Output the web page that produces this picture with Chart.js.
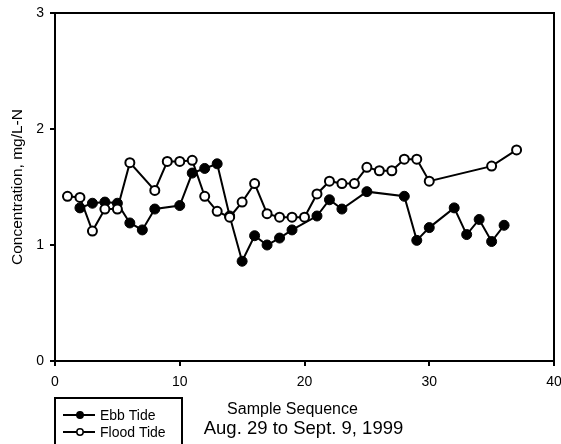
<!DOCTYPE html>
<html>
<head>
<meta charset="utf-8">
<script src="https://cdn.jsdelivr.net/npm/chart.js@4/dist/chart.umd.min.js"></script>
<style>
  html, body { margin: 0; padding: 0; background: #fff; }
  #wrap { width: 561px; height: 444px; position: relative; }
</style>
</head>
<body>
<div id="wrap"><canvas id="c" width="561" height="444"></canvas></div>
<script>
const FONT = "'Liberation Sans', Arial, sans-serif";

const ebbX = [2, 3, 4, 5, 6, 7, 8, 10, 11, 12, 13, 14, 15, 16, 17, 18, 19, 21, 22, 23, 25, 28, 29, 30, 32, 33, 34, 35, 36];
const ebbY = [1.32, 1.36, 1.37, 1.36, 1.19, 1.13, 1.31, 1.34, 1.62, 1.66, 1.70, 1.25, 0.86, 1.08, 1.00, 1.06, 1.13, 1.25, 1.39, 1.31, 1.46, 1.42, 1.04, 1.15, 1.32, 1.09, 1.22, 1.03, 1.17];

const floodX = [1, 2, 3, 4, 5, 6, 8, 9, 10, 11, 12, 13, 14, 15, 16, 17, 18, 19, 20, 21, 22, 23, 24, 25, 26, 27, 28, 29, 30, 35, 37];
const floodY = [1.42, 1.41, 1.12, 1.31, 1.31, 1.71, 1.47, 1.72, 1.72, 1.73, 1.42, 1.29, 1.24, 1.37, 1.53, 1.27, 1.24, 1.24, 1.24, 1.44, 1.55, 1.53, 1.53, 1.67, 1.64, 1.64, 1.74, 1.74, 1.55, 1.68, 1.82];

const seriesNames = ['Ebb Tide', 'Flood Tide'];
const yTitle = 'Concentration, mg/L-N';
const xTitle = 'Sample Sequence';
const subTitle = 'Aug. 29 to Sept. 9, 1999';

const toPts = (xs, ys) => xs.map((x, i) => ({ x: x, y: ys[i] }));

const extras = {
  id: 'extras',
  afterDraw(chart) {
    const ctx = chart.ctx;
    const a = chart.chartArea;
    ctx.save();
    ctx.strokeStyle = '#000';
    ctx.lineWidth = 2;
    ctx.beginPath();
    ctx.moveTo(a.left, a.top);
    ctx.lineTo(a.right, a.top);
    ctx.lineTo(a.right, a.bottom);
    ctx.stroke();

    ctx.fillStyle = '#000';
    ctx.textAlign = 'center';
    ctx.textBaseline = 'middle';
    ctx.font = '16px ' + FONT;
    ctx.fillText(xTitle, 292.5, 410);
    ctx.font = '18.5px ' + FONT;
    ctx.fillText(subTitle, 303.5, 428.5);

    ctx.lineWidth = 2;
    ctx.strokeRect(55, 398, 127, 60);
    const ds = chart.data.datasets;
    const rows = [415, 432];
    ds.forEach((d, i) => {
      const y = rows[i];
      ctx.strokeStyle = '#000';
      ctx.lineWidth = 2;
      ctx.beginPath();
      ctx.moveTo(63, y);
      ctx.lineTo(95, y);
      ctx.stroke();
      ctx.beginPath();
      ctx.arc(80, y, 3.2, 0, Math.PI * 2);
      ctx.fillStyle = d.pointBackgroundColor;
      ctx.fill();
      ctx.lineWidth = 1.5;
      ctx.stroke();
      ctx.fillStyle = '#000';
      ctx.textAlign = 'left';
      ctx.font = '14px ' + FONT;
      ctx.fillText(d.label, 100, y + 1);
    });
    ctx.restore();
  }
};

new Chart(document.getElementById('c'), {
  type: 'line',
  data: {
    datasets: [
      {
        label: seriesNames[0],
        data: toPts(ebbX, ebbY),
        borderColor: '#000',
        borderWidth: 2,
        pointRadius: 5,
        pointBackgroundColor: '#000',
        pointBorderColor: '#000',
        pointBorderWidth: 1,
        tension: 0,
        order: 2
      },
      {
        label: seriesNames[1],
        data: toPts(floodX, floodY),
        borderColor: '#000',
        borderWidth: 2,
        pointRadius: 4.5,
        pointBackgroundColor: '#fff',
        pointBorderColor: '#000',
        pointBorderWidth: 2,
        tension: 0,
        order: 1
      }
    ]
  },
  options: {
    responsive: false,
    animation: false,
    devicePixelRatio: 1,
    layout: { padding: { top: 13, right: 7, left: 0, bottom: 0 } },
    plugins: {
      legend: { display: false },
      tooltip: { enabled: false }
    },
    scales: {
      x: {
        type: 'linear',
        min: 0,
        max: 40,
        ticks: { stepSize: 10, color: '#000', font: { family: FONT, size: 14 }, padding: 8, maxRotation: 0 },
        grid: { display: true, drawOnChartArea: false, drawTicks: true, tickLength: 5, color: '#000', lineWidth: 2 },
        border: { display: true, color: '#000', width: 2 },
        afterFit(s) { s.height = 83; s.paddingRight = 0; s.paddingLeft = 0; }
      },
      y: {
        min: 0,
        max: 3,
        ticks: { stepSize: 1, color: '#000', font: { family: FONT, size: 14 }, padding: 6 },
        grid: { display: true, drawOnChartArea: false, drawTicks: true, tickLength: 5, color: '#000', lineWidth: 2 },
        border: { display: true, color: '#000', width: 2 },
        title: { display: true, text: yTitle, color: '#000', font: { family: FONT, size: 15.5 }, padding: { top: 8, bottom: 0 } },
        afterFit(s) { s.width = 55; s.paddingTop = 0; s.paddingBottom = 0; }
      }
    }
  },
  plugins: [extras]
});
</script>
</body>
</html>
